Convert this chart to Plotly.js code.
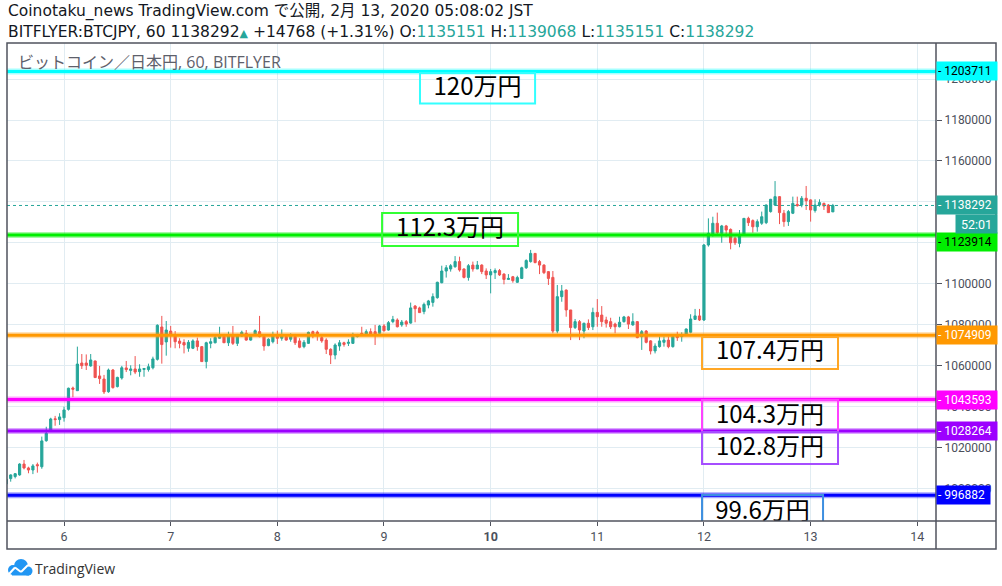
<!DOCTYPE html>
<html><head><meta charset="utf-8">
<script src="https://cdn.plot.ly/plotly-3.0.1.min.js"></script>
<style>html,body{margin:0;padding:0;background:#fff;}#chart{width:1002px;height:586px;}</style>
</head><body><div id="chart"></div>
<script>
// ---- data ----
const startTime = '2020-02-05T11:00:00';
const barMinutes = 60;
const opens = [1002400,1005000,1006000,1006800,1012100,1010200,1009200,1011800,1010800,1023500,1028700,1034200,1033800,1034700,1038800,1049200,1047900,1061400,1061400,1060000,1062400,1055100,1053600,1047400,1058000,1049900,1054100,1059000,1057800,1058500,1057200,1058300,1058200,1059100,1063200,1079000,1071700,1077000,1075300,1072100,1071400,1068600,1068600,1072200,1069400,1062100,1071000,1071300,1073500,1074300,1071300,1075100,1071000,1074600,1075900,1072600,1075600,1076700,1074300,1069900,1071800,1074300,1073500,1074300,1073000,1074300,1072200,1069400,1071000,1076700,1076500,1073800,1072600,1068100,1065300,1069700,1071300,1071000,1071000,1074300,1075900,1075600,1076700,1076700,1075900,1079500,1077500,1081600,1082400,1080000,1081600,1080900,1089200,1088300,1086500,1089700,1091000,1093300,1100600,1106300,1107300,1108400,1110900,1107300,1103200,1109200,1107300,1109200,1106300,1104400,1105500,1106500,1104800,1102200,1103500,1100800,1102700,1107900,1110900,1114900,1110900,1109200,1106000,1103200,1077000,1093800,1097000,1087300,1078700,1081600,1077000,1080800,1079100,1086100,1084800,1082400,1081600,1080400,1079100,1081600,1083900,1080000,1081600,1074300,1077000,1072200,1067300,1069400,1071500,1072600,1069400,1074800,1074300,1075400,1076400,1082700,1084400,1082400,1119000,1124400,1129600,1124700,1128300,1126600,1122300,1119800,1123900,1132000,1130900,1127900,1129600,1129900,1135300,1138500,1142600,1134500,1130400,1134500,1138800,1138500,1141800,1141000,1135800,1138500,1139300,1138500,1135151];
const highs = [1005100,1007100,1007700,1012500,1014100,1010800,1012100,1012800,1025500,1030300,1034700,1035600,1036900,1040100,1049400,1049900,1069400,1065800,1065600,1065800,1062600,1060000,1055600,1058700,1058500,1054700,1060000,1062400,1060300,1064800,1060800,1059000,1061100,1064500,1080300,1084400,1081900,1079500,1077000,1073500,1073000,1072600,1073000,1073800,1069700,1071800,1073500,1074600,1079100,1075600,1076700,1079500,1075600,1077200,1077500,1074600,1077800,1084400,1074600,1073500,1076700,1077200,1077800,1075100,1075900,1075600,1073500,1072600,1076700,1077200,1077200,1074600,1073500,1068600,1071000,1072600,1071800,1073000,1076200,1075600,1079100,1077800,1078300,1080000,1080000,1080400,1081900,1084400,1083200,1082400,1082400,1090900,1089700,1088900,1090900,1092200,1095400,1101100,1108900,1109200,1109700,1113600,1113300,1107600,1109700,1110900,1111200,1109600,1107600,1107300,1107600,1107300,1105200,1104800,1103900,1104000,1108400,1112000,1116600,1115100,1111700,1109600,1106300,1106300,1099500,1099500,1097300,1087300,1082900,1082400,1081100,1082700,1088400,1092600,1089200,1084000,1083500,1081100,1084000,1084400,1084400,1085700,1081900,1077500,1077500,1072600,1071000,1074300,1074300,1074300,1075100,1076700,1076400,1078300,1085200,1087800,1087800,1119500,1132000,1132800,1134800,1128800,1128800,1127100,1123100,1126300,1132000,1132800,1131500,1131500,1135300,1138800,1141500,1150200,1142900,1136100,1136100,1142600,1142600,1142900,1147800,1141300,1141300,1141300,1139700,1139000,1139068];
const lows = [1002000,1003500,1005100,1006400,1009500,1007600,1007200,1007900,1009800,1023000,1028400,1030800,1031200,1032800,1038200,1044700,1047900,1058500,1058000,1059600,1054100,1051200,1046300,1046900,1048900,1049500,1053300,1057000,1055400,1056000,1054700,1054700,1057200,1058300,1062600,1061100,1065000,1068900,1068600,1068600,1066100,1066900,1068200,1067400,1061900,1058800,1068600,1071000,1073300,1071200,1069700,1070200,1069700,1074300,1072300,1072300,1075100,1073900,1067400,1069600,1071000,1070700,1072300,1072300,1071800,1070200,1068600,1068600,1070700,1073500,1072300,1071300,1065800,1060900,1063200,1067400,1069400,1069700,1070700,1073900,1074900,1074600,1074900,1070200,1075600,1076700,1077200,1080800,1078800,1079100,1079100,1080600,1081300,1085800,1085200,1088100,1088900,1092800,1100300,1103100,1106000,1107900,1106000,1102700,1101600,1106000,1107300,1104800,1102400,1095400,1102400,1103900,1099800,1102200,1100600,1100600,1102400,1107300,1110400,1110100,1104800,1104800,1099500,1075900,1075900,1091300,1084000,1072600,1078000,1072600,1073500,1077500,1077500,1079100,1079100,1078700,1078000,1075900,1078800,1081100,1078000,1079600,1073500,1067800,1071000,1065600,1066100,1068900,1069400,1068600,1068900,1072200,1071800,1075100,1075900,1082400,1081900,1081900,1118200,1123100,1124400,1120100,1123100,1116900,1119000,1117900,1123400,1128300,1125000,1125500,1128800,1129200,1134800,1138000,1129200,1127900,1128300,1134100,1137700,1137400,1136100,1130400,1134800,1137700,1136100,1134800,1135151];
const closes = [1004600,1006800,1007400,1012100,1010200,1009200,1011200,1011300,1023400,1027100,1034100,1033800,1035100,1038500,1049100,1048600,1060900,1060100,1060300,1062900,1054300,1053800,1047300,1058000,1049400,1054400,1059100,1058200,1058500,1057000,1058500,1058700,1059600,1063400,1079800,1070400,1077500,1075100,1071800,1071000,1070200,1071500,1072200,1069400,1062100,1071300,1071800,1073900,1074300,1071300,1075100,1071000,1074600,1076400,1072600,1074300,1077200,1074300,1069700,1073000,1075100,1073500,1075100,1072600,1074300,1071300,1069100,1071500,1076400,1075600,1075600,1072200,1068100,1065300,1070200,1071300,1070500,1071500,1074300,1075100,1075100,1076700,1075100,1075600,1079500,1077200,1081100,1082700,1079100,1081400,1080400,1088300,1087900,1086000,1090000,1091700,1093800,1100800,1106300,1107900,1108900,1110900,1106800,1103200,1108900,1107300,1109200,1106000,1104400,1106000,1106500,1104400,1102200,1102700,1101600,1103100,1107900,1111400,1114900,1110400,1109200,1105500,1102700,1077000,1093800,1096600,1087300,1078700,1081600,1077500,1080800,1078700,1086100,1084000,1081600,1080800,1079100,1079100,1081300,1083900,1080400,1081600,1073800,1076700,1071500,1067300,1069700,1072200,1072600,1069400,1074300,1073800,1075100,1078000,1082900,1084400,1082400,1119000,1124700,1129600,1125000,1128300,1126300,1120100,1120100,1123400,1132000,1129900,1127900,1130400,1132800,1138500,1141300,1142600,1134800,1130400,1135300,1139300,1138200,1141800,1140600,1136100,1138500,1139700,1138000,1134800,1138292];
const levelValues = [1203711, 1123914, 1074909, 1043593, 1028264, 996882];
const levelColors = ['#00ffff', '#00ee00', '#ff9800', '#ff00ff', '#9c00ff', '#0000ff'];
const levelTextColors = ['#000000', '#000000', '#ffffff', '#ffffff', '#ffffff', '#ffffff'];
const boxLabels = ['120万円', '112.3万円', '107.4万円', '104.3万円', '102.8万円', '99.6万円'];
const boxColors = ['#33ffff', '#33ff33', '#ffa726', '#ff40ff', '#a64dff', '#3d8fe0'];
const changeText = '+14768 (+1.31%)';
const countdown = '52:01';
const priceTicks = [1000000,1020000,1040000,1060000,1080000,1100000,1120000,1140000,1160000,1180000,1200000];
const priceTickLabels = ['1000000','1020000','1040000','1060000','1080000','1100000','','','1160000','1180000','1200000'];
const dayTicks = ['2020-02-06','2020-02-07','2020-02-08','2020-02-09','2020-02-10','2020-02-11','2020-02-12','2020-02-13','2020-02-14'];
const dayLabels = ['6','7','8','9','<b>10</b>','11','12','13','14'];

// ---- build ----
function fmt(ms){ return new Date(ms).toISOString().slice(0,16).replace('T',' '); }
const t0 = Date.parse(startTime + 'Z');
const times = opens.map((_, i) => fmt(t0 + i * barMinutes * 60000));
const n = closes.length - 1;
const lastPrice = closes[n];

const W = 1002, H = 586, ML = 7, MR = 66, MT = 43, MB = 65;
const PW = W - ML - MR, PH = H - MT - MB;
const px = x => (x - ML) / PW;
const py = y => (H - MB - y) / PH;

const teal = '#26a69a', frameC = '#50535e', axisTxt = '#4c505b';
const tagFont = "Roboto, sans-serif";
const uiFont = "'DejaVu Sans', 'Noto Sans CJK JP', sans-serif";
const subFont = "'Open Sans', 'Noto Sans CJK JP', sans-serif";

const shapes = [];
shapes.push({type:'line', xref:'paper', yref:'y', x0:0, x1:1, y0:lastPrice, y1:lastPrice, layer:'above', line:{color:teal, width:1, dash:'dot'}});
levelValues.forEach((v, i) => {
  shapes.push({type:'line', xref:'paper', yref:'y', x0:0, x1:1, y0:v, y1:v, layer:'above', opacity:0.35, line:{color:levelColors[i], width:6}});
  shapes.push({type:'line', xref:'paper', yref:'y', x0:0, x1:1, y0:v, y1:v, layer:'above', line:{color:levelColors[i], width:3}});
});
const boxPos = [
  {x0:'2020-02-09 08:06', x1:'2020-02-10 10:00', y0:1188000, y1:1202900},
  {x0:'2020-02-08 23:34', x1:'2020-02-10 06:10', y0:1118500, y1:1134600},
  {x0:'2020-02-11 23:34', x1:'2020-02-13 06:10', y0:1058500, y1:1074100},
  {x0:'2020-02-11 23:34', x1:'2020-02-13 06:10', y0:1027700, y1:1043400},
  {x0:'2020-02-11 23:34', x1:'2020-02-13 06:10', y0:1012100, y1:1027700},
  {x0:'2020-02-11 23:34', x1:'2020-02-13 02:48', y0:979800, y1:997000}
];
boxPos.forEach((b, i) => {
  shapes.push({type:'rect', xref:'x', yref:'y', x0:b.x0, x1:b.x1, y0:b.y0, y1:b.y1, layer:'above',
    line:{color:boxColors[i], width:2}, fillcolor:'rgba(0,0,0,0)',
    label:{text:boxLabels[i], textposition:'middle center', font:{family:"'Noto Sans CJK JP', sans-serif", size:24, color:'#000'}}});
});
// frame
shapes.push({type:'rect', xref:'paper', yref:'paper', x0:px(7), x1:px(996), y0:py(549), y1:py(43), layer:'above', line:{color:frameC, width:1.5}});
shapes.push({type:'line', xref:'paper', yref:'paper', x0:px(936), x1:px(936), y0:py(549), y1:py(43), layer:'above', line:{color:frameC, width:1.5}});
shapes.push({type:'line', xref:'paper', yref:'paper', x0:px(7), x1:px(996), y0:py(521), y1:py(521), layer:'above', line:{color:frameC, width:1.5}});
// TradingView logo (cloud)
const logoBlue = '#2196f3';
[[8,565,18,575],[14,559,28,573],[23.5,566.5,32.5,575.5]].forEach(c => {
  shapes.push({type:'circle', xref:'paper', yref:'paper', x0:px(c[0]), x1:px(c[2]), y0:py(c[3]), y1:py(c[1]), fillcolor:logoBlue, line:{width:0}, layer:'above'});
});
shapes.push({type:'rect', xref:'paper', yref:'paper', x0:px(12), x1:px(29), y0:py(575.5), y1:py(569), fillcolor:logoBlue, line:{width:0}, layer:'above'});
const zig = [[9,574],[15,567.5],[21,572],[28,565]];
for (let i = 0; i < zig.length - 1; i++) {
  shapes.push({type:'line', xref:'paper', yref:'paper', x0:px(zig[i][0]), y0:py(zig[i][1]), x1:px(zig[i+1][0]), y1:py(zig[i+1][1]), line:{color:'#fff', width:2}, layer:'above'});
}

const annotations = [];
const tealSpan = s => '<span style="color:' + teal + '">' + s + '</span>';
annotations.push({xref:'paper', yref:'paper', x:px(6), y:py(11), xanchor:'left', yanchor:'middle', showarrow:false,
  text:'Coinotaku_news TradingView.com で公開, 2月 13, 2020 05:08:02 JST', font:{family:uiFont, size:15.5, color:'#131722'}});
annotations.push({xref:'paper', yref:'paper', x:px(6), y:py(32), xanchor:'left', yanchor:'middle', showarrow:false,
  text:'BITFLYER:BTCJPY, 60 ' + lastPrice + '<span style="color:' + teal + ';font-size:11px">▲</span> ' + changeText +
       ' O:' + tealSpan(opens[n]) + ' H:' + tealSpan(highs[n]) + ' L:' + tealSpan(lows[n]) + ' C:' + tealSpan(closes[n]),
  font:{family:uiFont, size:15.5, color:'#131722'}});
annotations.push({xref:'paper', yref:'paper', x:px(16), y:py(62), xanchor:'left', yanchor:'middle', showarrow:false,
  text:'ビットコイン／日本円, 60, BITFLYER', font:{family:subFont, size:16, color:'#5d606b'}});
annotations.push({xref:'paper', yref:'paper', x:px(33), y:py(568), xanchor:'left', yanchor:'middle', showarrow:false,
  text:'TradingView', font:{family:subFont, size:14, color:'#333'}});
function priceTag(v, bg, fg, shift, w) {
  return {xref:'paper', yref:'y', x:1, y:v, xanchor:'left', yanchor:'middle', yshift:shift||0, showarrow:false,
    text:'- ' + v, align:'left', bgcolor:bg, width:w||58, height:16, borderpad:1,
    font:{family:tagFont, size:12, color:fg}};
}
levelValues.forEach((v, i) => {
  annotations.push(priceTag(v, levelColors[i], levelTextColors[i], i === 1 ? -7 : 0, i === 5 ? 51 : 58));
});
annotations.push(priceTag(lastPrice, teal, '#fff', 0, 58));
annotations.push({xref:'paper', yref:'y', x:px(955), y:lastPrice, xanchor:'left', yanchor:'middle', yshift:-19, showarrow:false,
  text:countdown, align:'center', bgcolor:teal, width:39, height:16, borderpad:1, font:{family:tagFont, size:12.5, color:'#fff'}});

const trace = {
  type:'candlestick', x:times, open:opens, high:highs, low:lows, close:closes,
  increasing:{line:{color:teal, width:1}, fillcolor:teal},
  decreasing:{line:{color:'#ef5350', width:1}, fillcolor:'#ef5350'},
  whiskerwidth:0, hoverinfo:'skip', showlegend:false
};

const layout = {
  width:W, height:H, margin:{l:ML, r:MR, t:MT, b:MB, pad:0},
  paper_bgcolor:'#fff', plot_bgcolor:'#fff', showlegend:false, hovermode:false,
  xaxis:{type:'date', range:['2020-02-05 11:10','2020-02-14 04:13'], rangeslider:{visible:false},
    tickvals:dayTicks, ticktext:dayLabels, showgrid:true, gridcolor:'#e1ecf2', gridwidth:1,
    ticks:'outside', ticklen:4, tickcolor:frameC, tickfont:{family:tagFont, size:12.5, color:axisTxt},
    showline:false, zeroline:false, fixedrange:true},
  yaxis:{side:'right', range:[984312, 1217576], tickvals:priceTicks, ticktext:priceTickLabels,
    showgrid:true, gridcolor:'#e1ecf2', gridwidth:1, ticks:'outside', ticklen:5, tickcolor:frameC,
    tickfont:{family:tagFont, size:12, color:axisTxt}, showline:false, zeroline:false, fixedrange:true},
  shapes:shapes, annotations:annotations
};

Plotly.newPlot('chart', [trace], layout, {staticPlot:true, displayModeBar:false});
</script>
</body></html>
